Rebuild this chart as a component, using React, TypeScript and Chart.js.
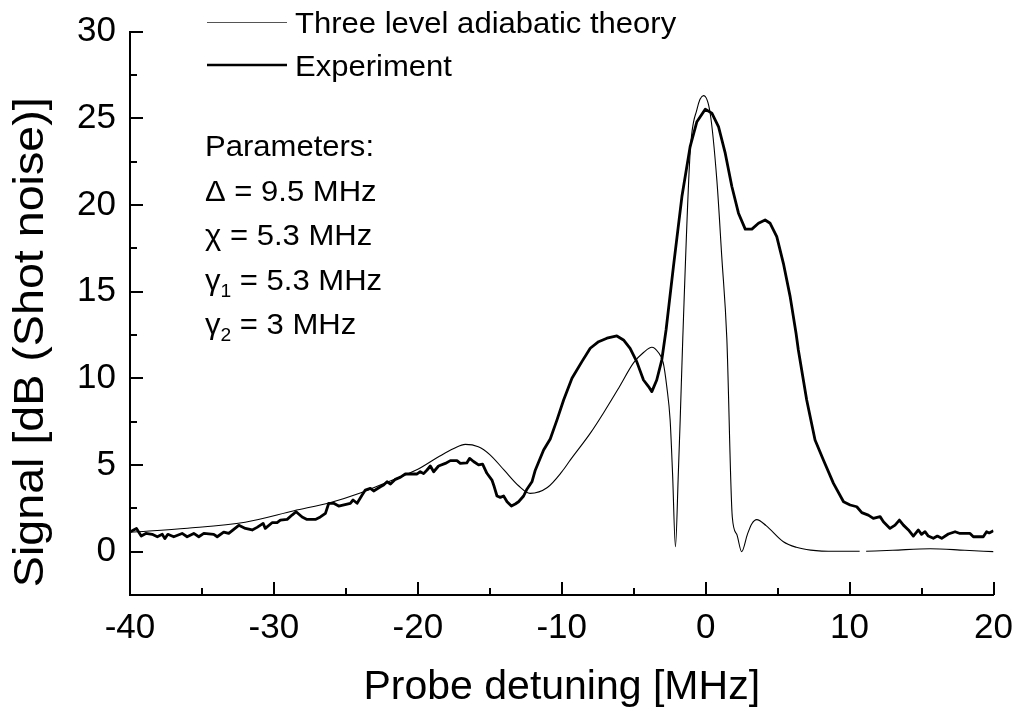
import React, { useEffect, useRef } from 'react';
import { Chart, registerables } from 'chart.js';

Chart.register(...registerables);

const FONT = '"Liberation Sans", Arial, Helvetica, sans-serif';

// Three level adiabatic theory (thin line); null marks the break in the trace
const theoryX = [
  -40, -36, -32, -28.6, -26, -24, -22, -20, -18.5, -17.5, -16.7, -15.8, -15, -14, -13, -12.2,
  -11, -10, -9.4, -8, -7.1, -6, -5, -4.3, -3.74, -3.3, -2.95, -2.7, -2.47, -2.3, -2.1, -1.9,
  -1.77, -1.59, -1.08, -0.61, -0.15, 0.31, 0.78, 1.12, 1.47, 1.85, 2.16, 2.5, 2.9, 3.2, 3.55,
  4.2, 5.4, 6.3, 7.3, 9, 10.7, 10.9, 11.15, 13, 15.6, 18, 20,
];
const theoryY = [
  1.12, 1.35, 1.7, 2.36, 2.85, 3.38, 4.05, 4.75, 5.5, 5.95, 6.19, 6.05, 5.6, 4.7, 3.8, 3.36,
  3.7, 4.6, 5.29, 6.85, 8.0, 9.5, 10.9, 11.5, 11.79, 11.5, 10.9, 9.5, 7.6, 4.5, 0.28, 4.5,
  7.6, 12.3, 23.0, 25.5, 26.3, 25.3, 21.4, 17.0, 12.3, 2.0, 1.0, 0.0, 1.0, 1.6, 1.85,
  1.5, 0.57, 0.25, 0.09, 0.02, 0.02, null, 0.02, 0.08, 0.17, 0.08, 0.0,
];

// Experiment (thick line)
const expX = [
  -40, -39.85, -39.55, -39.22, -38.9, -38.46, -38.1, -37.76, -37.58, -37.37, -36.96, -36.38,
  -36.03, -35.57, -35.22, -34.87, -34.18, -33.94, -33.49, -33.14, -32.44, -31.98, -31.51,
  -31.17, -30.75, -30.6, -30.13, -29.78, -29.55, -29.08, -28.74, -28.46, -28.04, -27.7,
  -27.12, -26.77, -26.42, -26.19, -25.85, -25.5, -24.69, -24.5, -24.22, -23.87, -23.65,
  -23.3, -23.07, -22.6, -22.38, -22.14, -21.9, -21.56, -21.2, -20.87, -20.05, -19.83, -19.6,
  -19.36, -19.13, -18.9, -18.56, -18.09, -17.74, -17.28, -17.05, -16.6, -16.4, -16.13,
  -15.78, -15.5, -15.2, -14.85, -14.69, -14.5, -14.27, -14.04, -13.8, -13.5, -13.23, -13.0,
  -12.65, -12.42, -12.07, -11.84, -11.49, -11.26, -10.8, -10.33, -9.87, -9.29, -8.6, -8.02,
  -7.44, -6.86, -6.17, -5.71, -5.25, -4.79, -4.32, -3.97, -3.74, -3.4, -3.05, -2.75, -2.24,
  -1.65, -1.08, -0.61, -0.03, 0.43, 0.89, 1.36, 1.82, 2.28, 2.75, 3.21, 3.67, 4.13, 4.48,
  4.94, 5.4, 5.87, 6.28, 6.44, 7.02, 7.6, 8.18, 8.88, 9.58, 10.04, 10.5, 10.85, 11.3, 11.65,
  12.12, 12.35, 12.81, 13.16, 13.46, 13.74, 14.09, 14.43, 14.78, 15.0, 15.24, 15.47, 15.82,
  16.1, 16.4, 16.86, 17.33, 17.67, 18.37, 18.6, 19.29, 19.52, 19.7, 20,
];
const expY = [
  1.15, 1.21, 1.34, 0.9, 1.05, 1.0, 0.86, 1.0, 0.75, 1.0, 0.86, 1.05,
  0.86, 1.05, 0.86, 1.05, 1.0, 0.86, 1.13, 1.05, 1.52, 1.34, 1.25,
  1.4, 1.63, 1.34, 1.67, 1.67, 1.82, 1.86, 2.11, 2.3, 2.0, 1.86,
  1.86, 2.0, 2.21, 2.79, 2.79, 2.63, 2.79, 2.98, 2.79, 3.27, 3.55,
  3.65, 3.5, 3.74, 3.84, 4.03, 3.9, 4.17, 4.3, 4.48, 4.48, 4.61, 4.5,
  4.71, 4.94, 4.61, 4.94, 5.09, 5.25, 5.25, 5.09, 5.12, 5.38, 5.2,
  5.0, 5.05, 4.52, 4.13, 3.74, 3.21, 3.13, 3.21, 2.88, 2.63, 2.75, 2.88,
  3.21, 3.6, 4.03, 4.7, 5.4, 5.86, 6.5, 7.6, 8.75, 10.0, 10.96, 11.73,
  12.11, 12.31, 12.44, 12.21, 11.73, 10.96, 9.9, 9.52, 9.23, 9.9, 11.05, 12.8, 16.44,
  20.48, 23.36, 24.8, 25.52, 25.29, 24.52, 22.98, 21.06, 19.52, 18.6, 18.6, 18.94, 19.13, 18.94,
  18.17, 16.63, 14.71, 12.6, 11.63, 8.75, 6.44, 5.29, 3.94, 2.88, 2.69, 2.59, 2.25, 2.11, 1.92,
  2.02, 1.73, 1.34, 1.53, 1.82, 1.53, 1.25, 0.9, 1.25, 1.0, 1.15, 0.9, 0.77,
  0.9, 0.77, 1.02, 1.15, 1.05, 1.05, 0.86, 0.86, 1.15, 1.08, 1.21,
];

const xMin = -40;
const xMax = 20;
const xMajor = 10;
const xMinor = 5;
const yMin = -2.5;
const yMax = 30;
const yMajor = 5;
const yMinor = 2.5;

const legendLabels = ['Three level adiabatic theory', 'Experiment'];
const xTitle = 'Probe detuning [MHz]';
const yTitle = 'Signal [dB (Shot noise)]';
const paramLines = [
  { sym: 'Parameters:', sub: '', rest: '' },
  { sym: 'Δ', sub: '', rest: ' = 9.5 MHz' },
  { sym: 'χ', sub: '', rest: ' = 5.3 MHz' },
  { sym: 'γ', sub: '1', rest: ' = 5.3 MHz' },
  { sym: 'γ', sub: '2', rest: ' = 3 MHz' },
];

const STRETCH = 1.07;

function stretchedText(ctx: CanvasRenderingContext2D, text: string, x: number, y: number, size: number) {
  ctx.save();
  ctx.font = `${size}px ${FONT}`;
  ctx.translate(x, y);
  ctx.scale(STRETCH, 1);
  ctx.fillText(text, 0, 0);
  const w = ctx.measureText(text).width * STRETCH;
  ctx.restore();
  return w;
}

const overlayPlugin = {
  id: 'overlay',
  afterDraw(chart: any) {
    const { ctx, chartArea, scales } = chart;
    const x = scales.x;
    const y = scales.y;
    ctx.save();
    ctx.strokeStyle = '#000';
    ctx.lineWidth = 2;
    ctx.beginPath();
    for (let v = xMin; v <= xMax + 1e-9; v += xMinor) {
      const px = Math.round(x.getPixelForValue(v));
      const major = Math.abs(v % xMajor) < 1e-9;
      const len = major ? 13 : 7;
      ctx.moveTo(px, chartArea.bottom);
      ctx.lineTo(px, chartArea.bottom - len);
    }
    for (let v = yMin + yMinor; v <= yMax + 1e-9; v += yMinor) {
      const py = Math.round(y.getPixelForValue(v));
      const major = Math.abs(v % yMajor) < 1e-9;
      const len = major ? 13 : 7;
      ctx.moveTo(chartArea.left, py);
      ctx.lineTo(chartArea.left + len, py);
    }
    ctx.stroke();

    ctx.fillStyle = '#000';
    ctx.textBaseline = 'alphabetic';
    ctx.textAlign = 'left';

    // y axis title (rotated)
    ctx.save();
    ctx.font = `42px ${FONT}`;
    ctx.translate(31, (chartArea.top + chartArea.bottom) / 2 + 29);
    ctx.rotate(-Math.PI / 2);
    ctx.scale(1.11, 1);
    ctx.textAlign = 'center';
    ctx.textBaseline = 'middle';
    ctx.fillText(yTitle, 0, 0);
    ctx.restore();

    // legend
    const lx0 = 207;
    const lx1 = 287;
    const rows = [22.5, 65];
    const widths = [1, 2.6];
    const colors = ['#555', '#000'];
    rows.forEach((ry, i) => {
      ctx.strokeStyle = colors[i];
      ctx.lineWidth = widths[i];
      ctx.beginPath();
      ctx.moveTo(lx0, ry);
      ctx.lineTo(lx1, ry);
      ctx.stroke();
      stretchedText(ctx, legendLabels[i], 295, ry + 10.5, 29);
    });

    // parameters block
    let by = 156;
    paramLines.forEach((p) => {
      let cx = 205;
      cx += stretchedText(ctx, p.sym, cx, by, 29);
      if (p.sub) cx += stretchedText(ctx, p.sub, cx, by + 7, 18);
      if (p.rest) stretchedText(ctx, p.rest, cx, by, 29);
      by += 44.5;
    });
    ctx.restore();
  },
};

export default function App() {
  const ref = useRef<HTMLCanvasElement>(null);
  useEffect(() => {
    if (!ref.current) return;
    const theory = theoryX.map((v, i) => ({ x: v, y: theoryY[i] }));
    const exp = expX.map((v, i) => ({ x: v, y: expY[i] }));
    const chart = new Chart(ref.current, {
      type: 'line',
      data: {
        datasets: [
          {
            label: legendLabels[0],
            data: theory as any,
            borderColor: '#000',
            borderWidth: 1.1,
            pointRadius: 0,
            cubicInterpolationMode: 'monotone',
            spanGaps: false,
            fill: false,
          },
          {
            label: legendLabels[1],
            data: exp as any,
            borderColor: '#000',
            borderWidth: 2.8,
            pointRadius: 0,
            tension: 0,
            fill: false,
            borderJoinStyle: 'round',
          },
        ],
      },
      options: {
        animation: false,
        responsive: false,
        devicePixelRatio: 1,
        layout: { padding: { top: 31.5, right: 22.5, left: 0, bottom: 0 } },
        plugins: { legend: { display: false }, tooltip: { enabled: false } },
        scales: {
          x: {
            type: 'linear',
            min: xMin,
            max: xMax,
            grid: { display: false, drawTicks: false },
            border: { display: true, color: '#000', width: 2 },
            ticks: {
              stepSize: xMajor,
              color: '#000',
              padding: 12,
              maxRotation: 0,
              font: { size: 35, family: FONT },
            },
            title: {
              display: true,
              text: xTitle,
              color: '#000',
              font: { size: 41, family: FONT },
              padding: { top: 0, bottom: 1 },
            },
            afterFit: (s: any) => {
              s.height = 118;
              s.paddingLeft = 0;
              s.paddingRight = 0;
            },
          },
          y: {
            type: 'linear',
            min: yMin,
            max: yMax,
            grid: { display: false, drawTicks: false },
            border: { display: true, color: '#000', width: 2 },
            ticks: {
              stepSize: yMajor,
              color: '#000',
              padding: 14,
              font: { size: 35, family: FONT },
            },
            afterBuildTicks: (s: any) => {
              s.ticks = s.ticks.filter((t: any) => Math.abs(t.value % yMajor) < 1e-9);
            },
            afterFit: (s: any) => {
              s.width = 130;
              s.paddingTop = 0;
              s.paddingBottom = 0;
            },
          },
        },
      },
      plugins: [overlayPlugin],
    });
    return () => chart.destroy();
  }, []);
  return (
    <div style={{ position: 'fixed', left: 0, top: 0, width: 1016, height: 713, background: '#fff' }}>
      <canvas ref={ref} width={1016} height={713} style={{ width: 1016, height: 713, display: 'block' }} />
    </div>
  );
}
